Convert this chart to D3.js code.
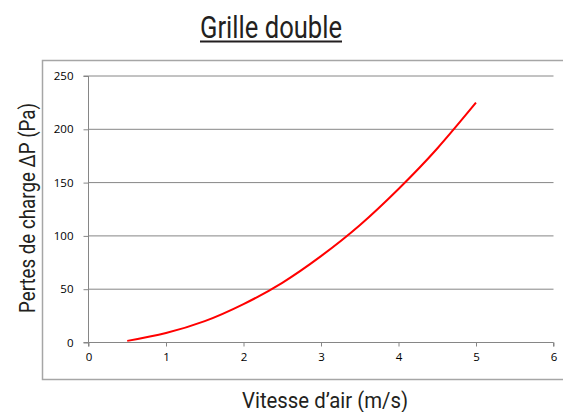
<!DOCTYPE html>
<html lang="fr">
<head>
<meta charset="utf-8">
<title>Grille double</title>
<script src="https://cdnjs.cloudflare.com/ajax/libs/d3/7.8.5/d3.min.js"></script>
<style>
  body { margin: 0; background: #fff; }
  svg { display: block; }
  .tick text { font-family: "Open Sans", sans-serif; font-size: 11.5px; fill: #000; }
  .cond { font-family: Roboto, "Liberation Sans", sans-serif; fill: #231f20; }
</style>
</head>
<body>
<svg id="chart" width="563" height="412"></svg>
<script>
// vitesse d'air (m/s) et pertes de charge (Pa)
var vitesse = [0.5, 1, 1.5, 2, 2.5, 3, 3.5, 4, 4.5, 5];
var pertes = [1.5, 9, 20, 36, 56, 81, 110, 144, 182, 225];
var xTicks = [0, 1, 2, 3, 4, 5, 6];
var yTicks = [0, 50, 100, 150, 200, 250];

var svg = d3.select("#chart");

// cadre gris autour du graphe
svg.append("rect")
    .attr("x", 42.5).attr("y", 60.5)
    .attr("width", 530).attr("height", 319)
    .attr("fill", "none").attr("stroke", "#a6a6a6").attr("stroke-width", 1.5);

var x = d3.scaleLinear().domain([0, 6]).range([88.5, 553.5]);
var y = d3.scaleLinear().domain([0, 250]).range([342.5, 76]);

// grille horizontale
svg.append("g").selectAll("line")
    .data(yTicks.filter(d => d > 0))
    .enter().append("line")
    .attr("x1", x(0)).attr("x2", x(6))
    .attr("y1", d => y(d)).attr("y2", d => y(d))
    .attr("stroke", "#868686").attr("stroke-width", 1);

var yAxis = svg.append("g")
    .attr("transform", "translate(" + x(0) + ",0)")
    .call(d3.axisLeft(y).tickValues(yTicks).tickFormat(d3.format("d")).tickSize(5).tickPadding(10));
var xAxis = svg.append("g")
    .attr("transform", "translate(0," + y(0) + ")")
    .call(d3.axisBottom(x).tickValues(xTicks).tickFormat(d3.format("d")).tickSize(4).tickPadding(6));
svg.selectAll(".domain").attr("stroke", "#868686");
svg.selectAll(".tick line").attr("stroke", "#868686");
yAxis.select(".domain").attr("d", "M-5," + y(250) + "H0V" + y(0) + "H-5");
xAxis.select(".domain").attr("d", "M" + x(0) + ",4V0H" + x(6) + "V4");

var line = d3.line()
    .x((d, i) => x(vitesse[i]))
    .y(d => y(d))
    .curve(d3.curveNatural);

svg.append("path")
    .datum(pertes)
    .attr("d", line)
    .attr("fill", "none")
    .attr("stroke", "#ff0000")
    .attr("stroke-width", 2);

// titre (police étroite simulée avec textLength)
svg.append("text")
    .attr("class", "cond")
    .attr("x", 200).attr("y", 38)
    .attr("textLength", 142)
    .attr("lengthAdjust", "spacingAndGlyphs")
    .style("font-size", "31px")
    .text("Grille double");
svg.append("line")
    .attr("x1", 200).attr("x2", 342)
    .attr("y1", 41.5).attr("y2", 41.5)
    .attr("stroke", "#231f20").attr("stroke-width", 1.8);

svg.append("text")
    .attr("class", "cond")
    .attr("x", 242).attr("y", 408)
    .attr("textLength", 166)
    .attr("lengthAdjust", "spacingAndGlyphs")
    .style("font-size", "22px")
    .text("Vitesse d\u2019air (m/s)");

svg.append("text")
    .attr("class", "cond")
    .attr("transform", "translate(35,313) rotate(-90)")
    .attr("textLength", 210)
    .attr("lengthAdjust", "spacingAndGlyphs")
    .style("font-size", "22px")
    .text("Pertes de charge \u0394P (Pa)");
</script>
</body>
</html>
